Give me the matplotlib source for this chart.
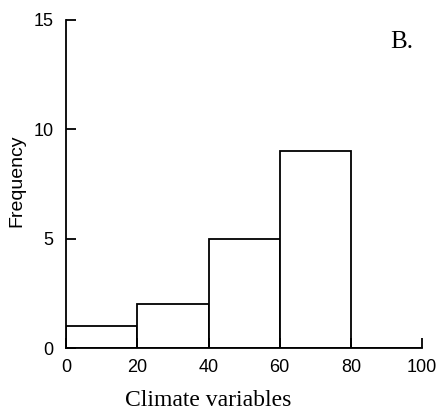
import matplotlib
matplotlib.use('Agg')
import matplotlib.pyplot as plt

# histogram bins and counts
bin_edges = [0, 20, 40, 60, 80, 100]
counts = [1, 2, 5, 9, 0]
xticks = [0, 20, 40, 60, 80, 100]
yticks = [0, 5, 10, 15]

fig = plt.figure(figsize=(4.41, 4.15), dpi=100)
ax = fig.add_axes([0.150, 0.161, 0.807, 0.791])

lefts = bin_edges[:-1]
widths = [bin_edges[i + 1] - bin_edges[i] for i in range(len(lefts))]
ax.bar(lefts, counts, width=widths, align='edge', color='white',
       edgecolor='black', linewidth=1.3)

ax.set_xlim(0, 100)
ax.set_ylim(0, 15)
ax.set_xticks(xticks)
ax.set_yticks(yticks)

for s in ['top', 'right']:
    ax.spines[s].set_visible(False)
for s in ['left', 'bottom']:
    ax.spines[s].set_linewidth(1.3)

ax.tick_params(direction='in', length=7, width=1.3, pad=8,
               labelsize=13)
ax.tick_params(axis='y', pad=9)
for lab in ax.get_xticklabels() + ax.get_yticklabels():
    lab.set_family('Liberation Sans')

ax.set_xlabel('Climate variables', family='Liberation Serif',
              fontsize=17)
ax.xaxis.set_label_coords(0.40, -0.128)
ax.set_ylabel('Frequency', family='Liberation Sans', fontsize=14,
              va='center', ha='center')
ax.yaxis.set_label_coords(-0.138, 0.509)

ax.text(94.4, 14.0, 'B.', family='Liberation Serif', fontsize=18,
        ha='center', va='center')

plt.savefig('out.png', format='png')
